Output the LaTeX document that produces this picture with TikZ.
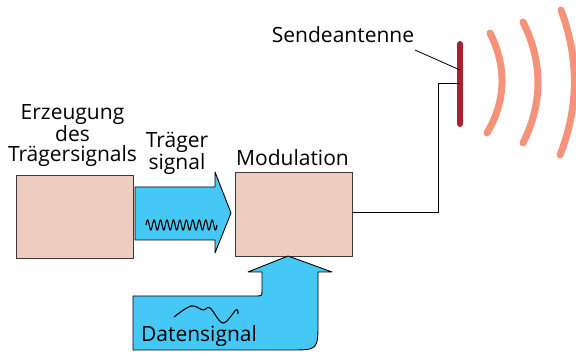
\documentclass[tikz,border=0pt]{standalone}
\usepackage{fontspec}
\setmainfont{Open Sans}
\usetikzlibrary{positioning, calc}
\definecolor{boxFill}{HTML}{EDCDBF}
\definecolor{boxLine}{HTML}{3A3A3A}
\definecolor{signalBlue}{HTML}{45C8F5}
\definecolor{antRed}{HTML}{A8232F}
\definecolor{waveSalmon}{HTML}{F4937A}

\begin{document}
\begin{tikzpicture}[
  x=1pt, y=-1pt,
  font=\fontsize{21}{20.5}\selectfont,
  every node/.style={align=center, inner sep=0pt},
  blockbox/.style={rectangle, draw=boxLine, fill=boxFill, line width=0.8pt},
  bigarrow/.style={draw=black, fill=signalBlue, line width=0.9pt, line join=round},
  signalwave/.style={black, line width=1.1pt},
  antenna/.style={antRed, line width=6pt, line cap=round},
  radiowave/.style={waveSalmon, line width=7pt, line cap=round},
]
\useasboundingbox (0,0) rectangle (576,355);

\node[blockbox, minimum width=117pt, minimum height=83pt] (gen) at (74.5,216.5) {};
\node[blockbox, minimum width=117pt, minimum height=84pt] (mod) at (293.5,214) {};

\node[anchor=base] (genlabel) at (72.5,162) {Erzeugung\\des\\Trägersignals};
\node[anchor=base] (carrierlabel) at (177,170) {Träger\\signal};
\node[anchor=base] (modlabel) at (292.5,166) {Modulation};
\node[anchor=base] (antlabel) at (343,43) {Sendeantenne};

% carrier arrow
\draw[bigarrow] (135,187) -- (215,187) -- (215,172) -- (231,213)
  -- (215,253) -- (215,240) -- (135,240) -- cycle;
\draw[signalwave] plot[domain=0:71, samples=300]
  ({146+\x}, {225-5*sin(55.77*\x)});

% data arrow
\draw[bigarrow] (133,296) -- (256,296) .. controls (262,296) .. (262,290)
  -- (262,272) -- (248,272) -- (288,256) -- (332,272) -- (318,272)
  -- (318,322) .. controls (318,350) .. (290,350) -- (133,350) -- cycle;
\draw[signalwave] plot[smooth, tension=0.6] coordinates
  {(174,317) (191,306) (203,310) (210,308) (223,323) (236,310) (238,314)};
\node[anchor=base] (datalabel) at (199,342) {Datensignal};

% antenna
\coordinate (anttop) at (460,44);
\coordinate (antbot) at (460,124);
\coordinate (antfeed) at (460,83);
\coordinate (antleader) at (460,70);
\draw[antenna] (anttop) -- (antbot);
\draw[line width=0.8pt] (mod.east |- 0,212) -- (438,212) |- (antfeed);
\draw[line width=0.8pt] (415,50) -- (antleader);

\draw[radiowave] (490,33) .. controls (506.5,66) and (506.5,100) .. (487,133);
\draw[radiowave] (523,22) .. controls (543,62) and (543,103) .. (523,143);
\draw[radiowave] (561,10) .. controls (579,58) and (579,107) .. (560,155);

\end{tikzpicture}
\end{document}
